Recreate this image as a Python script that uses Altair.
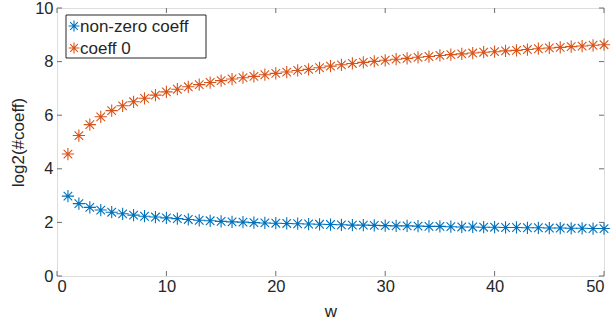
import altair as alt
import pandas as pd

w = list(range(1, 51))
nonzero = [2.98, 2.70, 2.56, 2.46, 2.38, 2.32, 2.27, 2.23, 2.20, 2.17,
           2.14, 2.11, 2.08, 2.06, 2.04, 2.02, 2.01, 1.99, 1.98, 1.97,
           1.96, 1.95, 1.94, 1.93, 1.92, 1.91, 1.90, 1.90, 1.89, 1.88,
           1.87, 1.87, 1.86, 1.85, 1.85, 1.84, 1.83, 1.83, 1.82, 1.82,
           1.81, 1.81, 1.80, 1.80, 1.79, 1.79, 1.78, 1.78, 1.77, 1.77]
coeff0 = [4.55, 5.24, 5.65, 5.94, 6.17, 6.35, 6.50, 6.63, 6.75, 6.87,
          6.97, 7.06, 7.14, 7.22, 7.29, 7.35, 7.40, 7.45, 7.51, 7.56,
          7.61, 7.67, 7.71, 7.77, 7.83, 7.88, 7.93, 7.97, 8.01, 8.05,
          8.09, 8.12, 8.16, 8.19, 8.23, 8.26, 8.29, 8.32, 8.35, 8.37,
          8.40, 8.42, 8.45, 8.48, 8.51, 8.53, 8.56, 8.58, 8.61, 8.63]
series_names = ["non-zero coeff", "coeff 0"]
series_colors = ["#0072BD", "#D95319"]
x_ticks = [0, 10, 20, 30, 40, 50]
y_ticks = [0, 2, 4, 6, 8, 10]

df = pd.DataFrame({
    "w": w + w,
    "val": nonzero + coeff0,
    "series": [series_names[0]] * len(w) + [series_names[1]] * len(w),
})
xt = pd.DataFrame({"w": x_ticks})
yt = pd.DataFrame({"val": y_ticks})

ASTER = "M-1,0L1,0M0,-1L0,1M-0.7,-0.7L0.7,0.7M-0.7,0.7L0.7,-0.7"
FONT = "Liberation Sans"
TXT = "#262626"
AX = "#6e6e6e"
W, H = 547, 268

xs = alt.Scale(domain=[0, 50], nice=False, zero=False)
ys = alt.Scale(domain=[0, 10], nice=False, zero=False)

x_axis = alt.Axis(values=x_ticks, title="w", grid=False, domain=False, ticks=False,
                  labelPadding=2, labelFontSize=16.5, labelFont=FONT, labelColor=TXT,
                  titleFontSize=17, titleFont=FONT, titleColor=TXT, titleFontWeight="normal",
                  titlePadding=9)
y_axis = alt.Axis(values=y_ticks, title="log2(#coeff)", grid=False, domain=False, ticks=False,
                  labelPadding=4, labelFontSize=16.5, labelFont=FONT, labelColor=TXT,
                  titleFontSize=17, titleFont=FONT, titleColor=TXT, titleFontWeight="normal",
                  titlePadding=7)

points = alt.Chart(df).mark_point(shape=ASTER, filled=False, size=150, strokeWidth=1.1,
                                  opacity=1).encode(
    x=alt.X("w:Q", scale=xs, axis=x_axis),
    y=alt.Y("val:Q", scale=ys, axis=y_axis),
    color=alt.Color("series:N", scale=alt.Scale(domain=series_names, range=series_colors),
                    legend=None),
)

xb = alt.Chart(xt).mark_rule(color=AX, strokeWidth=1).encode(
    x=alt.X("w:Q", scale=xs, axis=x_axis), y=alt.value(H), y2=alt.value(H - 5))
xtop = alt.Chart(xt).mark_rule(color=AX, strokeWidth=1).encode(
    x=alt.X("w:Q", scale=xs, axis=x_axis), y=alt.value(0), y2=alt.value(5))
yl = alt.Chart(yt).mark_rule(color=AX, strokeWidth=1).encode(
    y=alt.Y("val:Q", scale=ys, axis=y_axis), x=alt.value(0), x2=alt.value(5))
yr = alt.Chart(yt).mark_rule(color=AX, strokeWidth=1).encode(
    y=alt.Y("val:Q", scale=ys, axis=y_axis), x=alt.value(W), x2=alt.value(W - 5))

# legend box drawn by hand
LX, LY, LW, LH = 9, 7, 140, 43
box = alt.Chart(pd.DataFrame({"k": [0]})).mark_rect(
    fill="white", stroke=TXT, strokeWidth=1).encode(
    x=alt.value(LX), x2=alt.value(LX + LW), y=alt.value(LY), y2=alt.value(LY + LH))
leg_layers = [box]
for i, (name, col) in enumerate(zip(series_names, series_colors)):
    ldf = pd.DataFrame({"label": [name]})
    yy = LY + 11 + 22 * i
    leg_layers.append(alt.Chart(ldf).mark_point(
        shape=ASTER, filled=False, size=120, strokeWidth=1.1, color=col, opacity=1).encode(
        x=alt.value(LX + 8), y=alt.value(yy)))
    leg_layers.append(alt.Chart(ldf).mark_text(
        align="left", baseline="middle", fontSize=17, font=FONT, color=TXT).encode(
        x=alt.value(LX + 14), y=alt.value(yy + 1), text="label:N"))

chart = alt.layer(xb, xtop, yl, yr, points, *leg_layers).properties(
    width=W, height=H,
    autosize=alt.AutoSizeParams(type="none"),
    padding={"left": 57, "top": 8, "right": 9, "bottom": 48},
).configure_view(stroke=AX, strokeWidth=1).configure(background="white")

chart.save("out.html", embed_options={"renderer": "svg", "actions": False})
